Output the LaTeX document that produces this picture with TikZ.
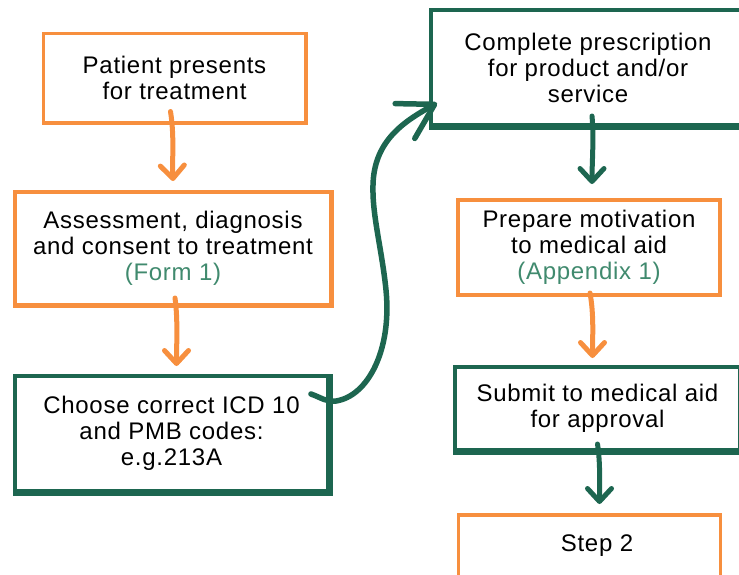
\documentclass[tikz,border=0pt]{standalone}
\usepackage{fontspec}
\setmainfont{Liberation Sans}[LetterSpace=3]
\usetikzlibrary{arrows.meta,calc}

\definecolor{flowOrange}{RGB}{247,143,62}
\definecolor{flowGreen}{RGB}{29,102,80}
\definecolor{refGreen}{RGB}{64,138,110}

\tikzset{
  x=1pt, y=-1pt,
  box/.style={rectangle, fill=white, align=center, inner sep=0pt, outer sep=0pt,
    font=\fontsize{24}{26}\selectfont},
  obox/.style={box, draw=flowOrange, line width=3.5pt},
  gbox/.style={box, draw=flowGreen, line width=4pt},
  flow/.style={line width=5pt, line cap=round,
    -{Straight Barb[length=13pt,width=24pt,round]}},
  oflow/.style={flow, draw=flowOrange},
  gflow/.style={flow, draw=flowGreen},
  bigflow/.style={line width=5.5pt, line cap=round, draw=flowGreen,
    -{Straight Barb[length=34pt,width=40pt,round]}}
}

\begin{document}
\begin{tikzpicture}
  \useasboundingbox (0,0) rectangle (739,574);
  \clip (0,0) rectangle (739,574);

  % left column
  \node[obox, minimum width=262, minimum height=89] (b1) at (174.5,78)
    {Patient presents\\for treatment};
  \node[obox, minimum width=316, minimum height=113] (b2) at (173,248.5)
    {Assessment, diagnosis\\and consent to treatment\\\textcolor{refGreen}{(Form 1)}};
  \node[gbox, minimum width=313, minimum height=115] (b3) at (171.5,433.5)
    {Choose correct ICD 10\\and PMB codes:\\e.g.213A};

  % right column
  \node[gbox, minimum width=314, minimum height=115] (b4) at (588,67.5)
    {Complete prescription\\for product and/or\\service};
  \node[obox, minimum width=262, minimum height=95] (b5) at (589,247.5)
    {Prepare motivation\\to medical aid\\\textcolor{refGreen}{(Appendix 1)}};
  \node[gbox, minimum width=285, minimum height=83] (b6) at (597.5,408.5)
    {Submit to medical aid\\for approval};
  \node[obox, minimum width=262, minimum height=62] (b7) at (589.5,546)
    {\hspace*{15pt}Step 2};

  % heavier lower and right edges (overlapping the border by 1pt)
  \foreach \n/\c/\w/\e in {b1/flowOrange/3.5/1.2, b2/flowOrange/3.5/1.5,
      b3/flowGreen/4/2.5, b4/flowGreen/4/2.5, b6/flowGreen/4/2.5}
    \draw[draw=\c, line width=\e pt+1pt]
      ([shift={(-\w/2, \w/2+\e/2-0.5)}]\n.south west)
      -- ([shift={(\w/2+\e/2-0.5, \w/2+\e/2-0.5)}]\n.south east)
      -- ([shift={(\w/2+\e/2-0.5, -\w/2)}]\n.north east);

  % connectors
  \draw[oflow] ([shift={(-4,-11)}]b1.south)
    .. controls +(4,25) and +(-1,-22) .. ([shift={(0,-11)}]b2.north);
  \draw[oflow] ([shift={(2,-7)}]b2.south)
    .. controls +(3,22) and +(0,-22) .. ([shift={(5,-10)}]b3.north);
  \draw[gflow] ([shift={(4,-9)}]b4.south)
    .. controls +(2,22) and +(0,-22) .. ([shift={(3,-16)}]b5.north);
  \draw[oflow] ([shift={(1,-2)}]b5.south)
    .. controls +(4,22) and +(0,-22) .. ([shift={(-5,-9)}]b6.north);
  \draw[gflow] ([shift={(0,-6)}]b6.south)
    .. controls +(3,20) and +(0,-20) .. ([shift={(10,-11)}]b7.north);

  \draw[bigflow] ([shift={(-17,-39.5)}]b3.east)
    .. controls (322,398) and (326,402) .. (336,401)
    .. controls (368,396) and (392,350) .. (386,290)
    .. controls (382,250) and (372,215) .. (373,185)
    .. controls (374,140) and (405,121) .. ([shift={(6,-22)}]b4.south west);
\end{tikzpicture}
\end{document}
